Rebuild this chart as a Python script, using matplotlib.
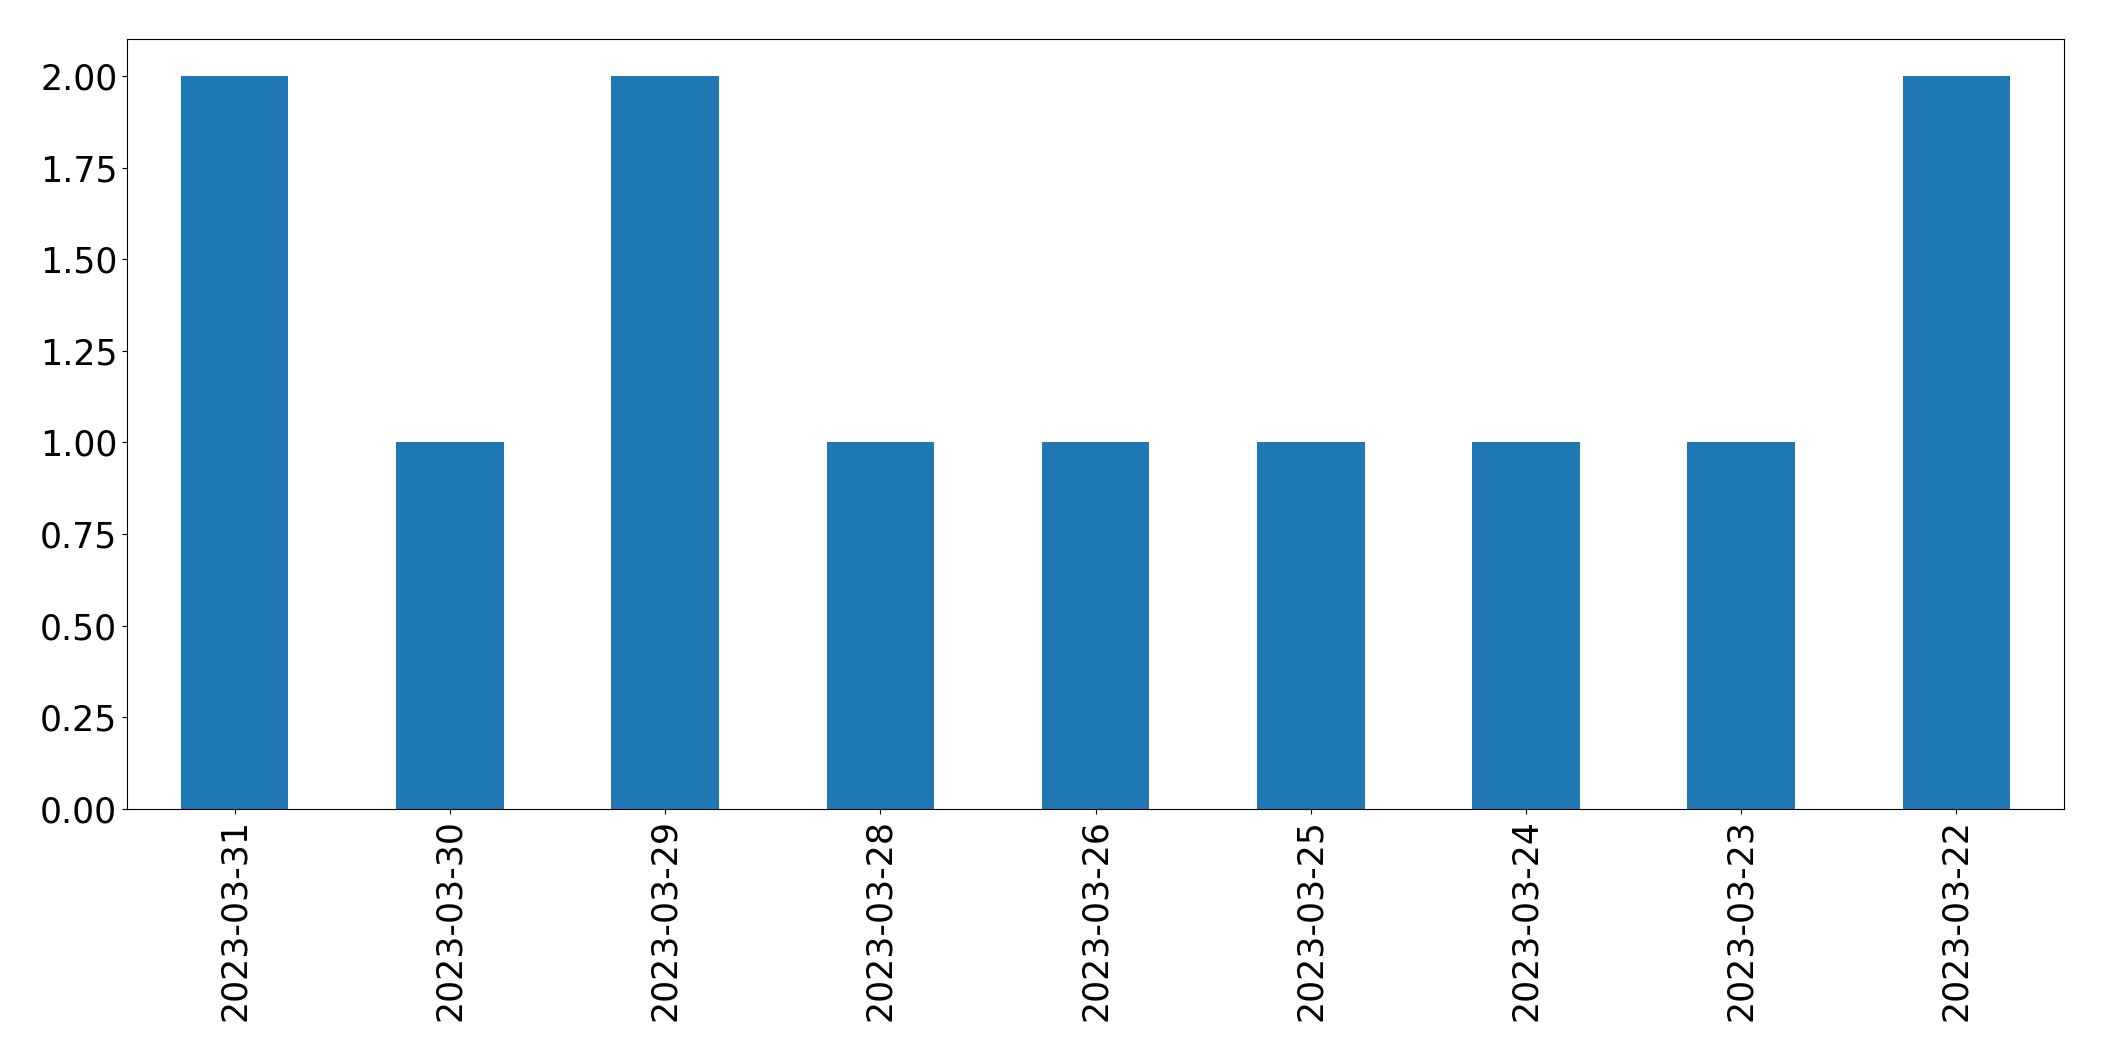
import matplotlib
matplotlib.use("Agg")
import matplotlib.pyplot as plt
import numpy as np

# datas e contagens
datas = ['2023-03-31', '2023-03-30', '2023-03-29', '2023-03-28', '2023-03-26',
         '2023-03-25', '2023-03-24', '2023-03-23', '2023-03-22']
contagens = [2, 1, 2, 1, 1, 1, 1, 1, 2]

fig = plt.figure(figsize=(21.04, 10.61), dpi=100)
ax = fig.add_axes([0.0604, 0.2375, 0.9206, 0.7255])

x = np.arange(len(datas))
ax.bar(x, contagens, width=0.5, color='#1f77b4')
ax.set_xlim(-0.5, len(datas) - 0.5)
ax.set_xticks(x)
ax.set_xticklabels(datas, rotation=90, fontsize=25)
ax.tick_params(axis='y', labelsize=25)
ax.yaxis.set_major_formatter(matplotlib.ticker.FormatStrFormatter('%.2f'))

fig.savefig('out.png', dpi=100)
